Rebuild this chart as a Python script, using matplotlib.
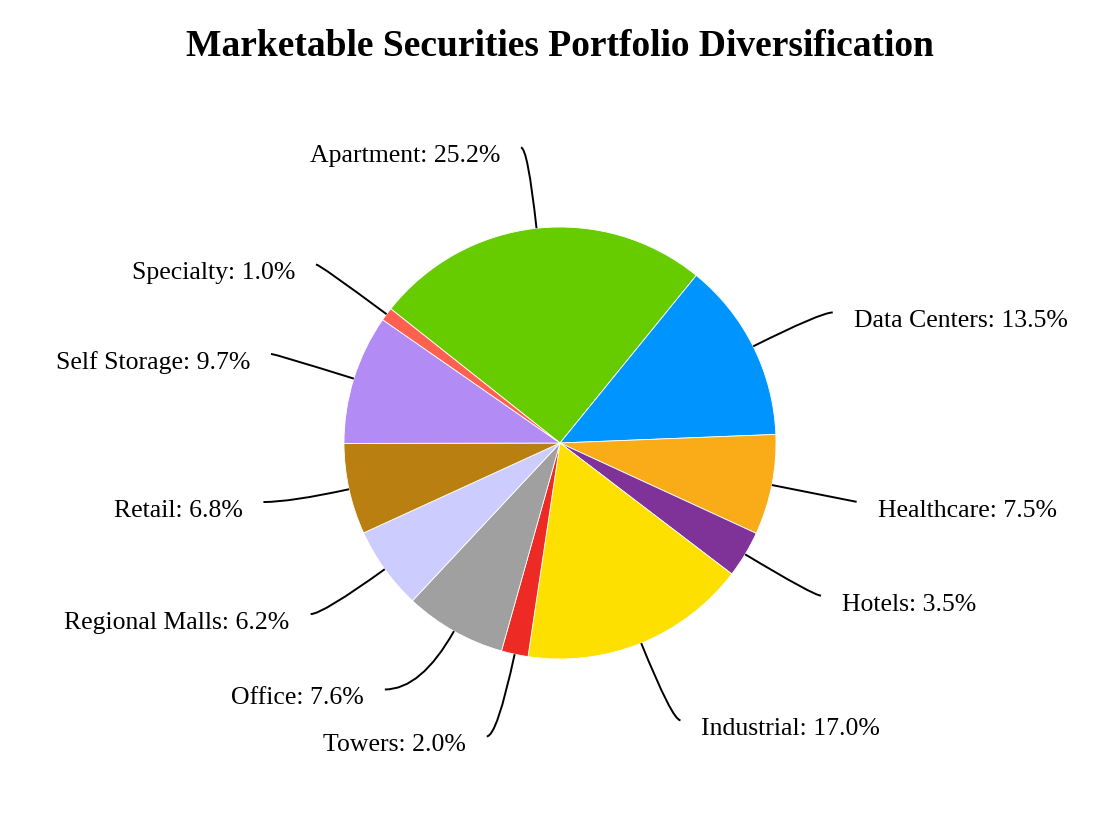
# -*- coding: utf-8 -*-
"""Marketable securities portfolio diversification — pie with curved leader lines."""
import numpy as np
import matplotlib; matplotlib.use('Agg')
import matplotlib.pyplot as plt
from matplotlib.path import Path
from matplotlib.patches import PathPatch

sectors = ['Apartment', 'Data Centers', 'Healthcare', 'Hotels', 'Industrial', 'Towers',
           'Office', 'Regional Malls', 'Retail', 'Self Storage', 'Specialty']
shares = [25.2, 13.5, 7.5, 3.5, 17.0, 2.0, 7.6, 6.2, 6.8, 9.7, 1.0]
colors = ['#66CC00', '#0094FF', '#FAAC18', '#7F3399', '#FDE000', '#EE2A24',
          '#A0A0A0', '#CCCCFF', '#B98011', '#B28CF4', '#FF6050']
# small angular nudges (deg) of label anchors, to keep labels apart
nudge = [1.3, -1.0, 0.0, 0.7, 1.4, -1.9, -6.0, -1.3, -1.1, 0.2, 0.4]

W, H = 1120, 814
CX, CY, R = 560, H - 443, 216
START = 141.6

plt.rcParams['font.family'] = ['Liberation Serif', 'DejaVu Serif']
fig = plt.figure(figsize=(W / 100, H / 100), dpi=100)
ax = fig.add_axes([0, 0, 1, 1])

wedges, _ = ax.pie(shares, colors=colors, startangle=START, counterclock=False,
                   radius=R, center=(CX, CY), frame=True,
                   wedgeprops=dict(linewidth=0.6, edgecolor='white'))
ax.set_xlim(0, W); ax.set_ylim(0, H); ax.set_aspect('equal'); ax.axis('off')

for w, name, v, dn in zip(wedges, sectors, shares, nudge):
    mid = np.deg2rad((w.theta1 + w.theta2) / 2)
    p0 = (CX + R * np.cos(mid), CY + R * np.sin(mid))
    a = mid + np.deg2rad(dn)
    rr = 1.38 * R if name == 'Apartment' else 1.4 * R
    p2 = (CX + rr * np.cos(a), CY + rr * np.sin(a))
    t = (p2[1] - CY) / np.sin(mid) if abs(np.sin(mid)) > 1e-3 else rr
    p1 = (CX + t * np.cos(mid), p2[1])
    ax.add_patch(PathPatch(Path([p0, p1, p2], [Path.MOVETO, Path.CURVE3, Path.CURVE3]),
                           fc='none', ec='black', lw=1.4))
    right = np.cos(a) > 0
    ax.text(p2[0] + (21 if right else -21), p2[1] - 9, '%s: %.1f%%' % (name, v),
            ha='left' if right else 'right', va='center', fontsize=18.5)

fig.text(0.5, 1 - 47 / H, 'Marketable Securities Portfolio Diversification',
         ha='center', va='center', fontsize=27, fontweight='bold')

fig.savefig('out.png', dpi=100, facecolor='white')
